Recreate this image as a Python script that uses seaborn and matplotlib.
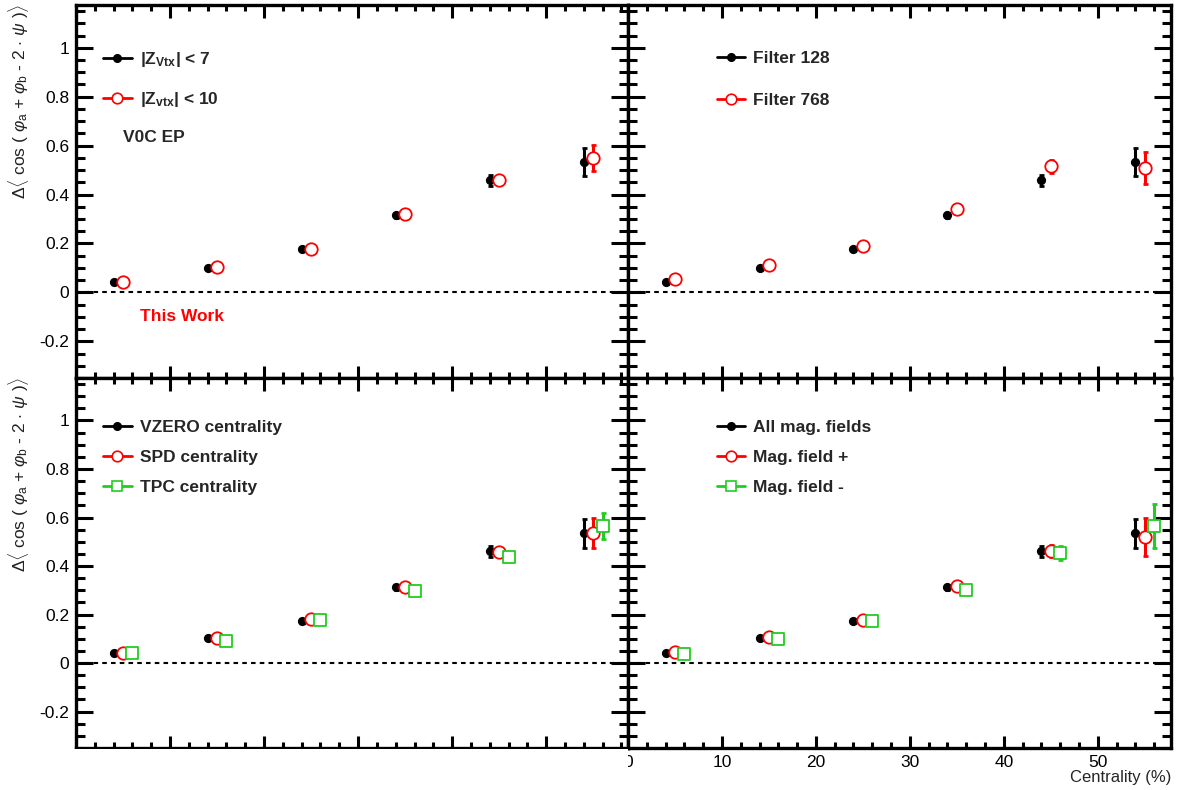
import numpy as np
import seaborn as sns
from matplotlib import pyplot as plt
from matplotlib.lines import Line2D
from matplotlib.patches import Rectangle
from matplotlib.ticker import MultipleLocator, FuncFormatter

# centrality bin centres, series are shifted by -1 / 0 / +1 around them
cent = np.array([5, 15, 25, 35, 45, 55])

# top left: vertex cut
zvtx7 = [0.041, 0.098, 0.176, 0.316, 0.459, 0.533]
zvtx7_err = [0.006, 0.007, 0.008, 0.010, 0.022, 0.058]
zvtx10 = [0.041, 0.102, 0.176, 0.320, 0.459, 0.549]
zvtx10_err = [0.005, 0.006, 0.007, 0.009, 0.015, 0.053]

# top right: filter bits
filt128 = [0.041, 0.098, 0.176, 0.316, 0.459, 0.533]
filt128_err = [0.006, 0.007, 0.008, 0.010, 0.022, 0.058]
filt768 = [0.053, 0.111, 0.189, 0.340, 0.516, 0.508]
filt768_err = [0.006, 0.007, 0.008, 0.010, 0.027, 0.065]

# bottom left: centrality estimator
vzero = [0.041, 0.103, 0.173, 0.313, 0.461, 0.535]
vzero_err = [0.006, 0.007, 0.008, 0.010, 0.022, 0.060]
spd = [0.041, 0.103, 0.181, 0.313, 0.457, 0.535]
spd_err = [0.005, 0.006, 0.007, 0.009, 0.018, 0.062]
tpc = [0.041, 0.091, 0.177, 0.296, 0.436, 0.564]
tpc_err = [0.005, 0.006, 0.007, 0.009, 0.010, 0.053]

# bottom right: magnetic field polarity
allmag = [0.041, 0.103, 0.173, 0.313, 0.461, 0.535]
allmag_err = [0.006, 0.007, 0.008, 0.010, 0.022, 0.060]
magp = [0.045, 0.107, 0.177, 0.317, 0.461, 0.519]
magp_err = [0.006, 0.007, 0.008, 0.010, 0.025, 0.077]
magm = [0.037, 0.099, 0.173, 0.300, 0.453, 0.564]
magm_err = [0.006, 0.007, 0.008, 0.010, 0.030, 0.090]

sns.set_style("ticks")
plt.rcParams['font.family'] = ['Liberation Sans', 'DejaVu Sans']
plt.rcParams['mathtext.fontset'] = 'custom'
plt.rcParams['mathtext.rm'] = 'Liberation Sans'
plt.rcParams['mathtext.it'] = 'Liberation Sans:italic'
plt.rcParams['mathtext.bf'] = 'Liberation Sans:bold'

STYLES = {
    'black': dict(color='black', marker='o', s=44, face='black', lw=0),
    'red': dict(color='red', marker='o', s=80, face='white', lw=1.3),
    'green': dict(color='#22cc22', marker='s', s=78, face='white', lw=1.3),
}

ylab = (r"$\Delta\langle$ cos ( $\varphi_{\mathrm{a}}$ + $\varphi_{\mathrm{b}}$"
        r" - 2 $\cdot$ $\psi$ )$\rangle$")

W, H = 1190, 790
fig = plt.figure(figsize=(W / 100, H / 100), dpi=100)


def px_axes(x0, x1, y0, y1):
    return fig.add_axes([x0 / W, 1 - y1 / H, (x1 - x0) / W, (y1 - y0) / H])


ax_tl = px_axes(76, 628, 5, 378)
ax_tr = px_axes(628, 1171, 5, 378)
ax_bl = px_axes(76, 628, 378, 748)
ax_br = px_axes(628, 1171, 378, 748)


def draw_series(ax, x, y, err, style):
    st = STYLES[style]
    ax.errorbar(x, y, yerr=err, fmt='none', ecolor=st['color'], elinewidth=2.2,
                capsize=1.8, capthick=2, zorder=2)
    sns.scatterplot(x=x, y=y, ax=ax, marker=st['marker'], s=st['s'],
                    color=st['face'], edgecolor=st['color'], linewidth=st['lw'],
                    zorder=3, legend=False)


def handle(style):
    st = STYLES[style]
    return Line2D([], [], color=st['color'], lw=2, marker=st['marker'],
                  markersize=np.sqrt(st['s']) * (0.8 if style == 'black' else 0.85),
                  markerfacecolor=st['face'], markeredgecolor=st['color'],
                  markeredgewidth=1.2)


def style_axes(ax, xmax, left_labels, bottom_labels):
    ax.set_xlim(0, xmax)
    ax.set_ylim(-0.35, 1.175)
    ax.axhline(0, color='black', lw=1.5, ls=(0, (2.2, 2)), zorder=1)
    ax.xaxis.set_major_locator(MultipleLocator(10))
    ax.xaxis.set_minor_locator(MultipleLocator(2))
    ax.yaxis.set_major_locator(MultipleLocator(0.2))
    ax.yaxis.set_minor_locator(MultipleLocator(0.05))
    ax.yaxis.set_major_formatter(FuncFormatter(lambda v, _: f"{v:g}"))
    ax.tick_params(which='both', direction='in', top=True, right=True,
                   width=2.2, colors='black', labelsize=12.5)
    ax.tick_params(axis='y', which='major', length=12.5, pad=5)
    ax.tick_params(axis='y', which='minor', length=6.5)
    ax.tick_params(axis='x', which='major', length=9, pad=5)
    ax.tick_params(axis='x', which='minor', length=4.5)
    ax.tick_params(axis='y', labelleft=left_labels)
    ax.tick_params(axis='x', labelbottom=bottom_labels)
    for sp in ax.spines.values():
        sp.set_linewidth(2.4)
        sp.set_color('black')
    ax.set_xlabel('')
    ax.set_ylabel('')


def add_legend(ax, styles, labels, x, y, spacing):
    return ax.legend([handle(s) for s in styles], labels, loc='upper left',
                     bbox_to_anchor=(x, y), frameon=False,
                     handlelength=1.65, handletextpad=0.45, labelspacing=spacing,
                     borderpad=0, borderaxespad=0,
                     prop={'weight': 'bold', 'size': 12.5})


# top left
draw_series(ax_tl, cent - 1, zvtx7, zvtx7_err, 'black')
draw_series(ax_tl, cent, zvtx10, zvtx10_err, 'red')
style_axes(ax_tl, 58.7, True, False)
add_legend(ax_tl, ['black', 'red'],
           [r"|$\mathbf{Z}_{\mathbf{Vtx}}$| < 7", r"|$\mathbf{Z}_{\mathbf{vtx}}$| < 10"],
           0.049, 0.88, 1.2)
ax_tl.text(0.085, 0.646, 'V0C EP', transform=ax_tl.transAxes, fontsize=12.5,
           fontweight='bold', va='center')
ax_tl.text(0.116, 0.166, 'This Work', transform=ax_tl.transAxes, fontsize=12.5,
           fontweight='bold', color='red', va='center')

# top right
draw_series(ax_tr, cent - 1, filt128, filt128_err, 'black')
draw_series(ax_tr, cent, filt768, filt768_err, 'red')
style_axes(ax_tr, 57.8, False, False)
add_legend(ax_tr, ['black', 'red'], ['Filter 128', 'Filter 768'],
           0.163, 0.876, 1.5)

# bottom left
draw_series(ax_bl, cent - 1, vzero, vzero_err, 'black')
draw_series(ax_bl, cent, spd, spd_err, 'red')
draw_series(ax_bl, cent + 1, tpc, tpc_err, 'green')
style_axes(ax_bl, 58.7, True, False)
add_legend(ax_bl, ['black', 'red', 'green'],
           ['VZERO centrality', 'SPD centrality', 'TPC centrality'],
           0.049, 0.888, 0.88)

# bottom right
draw_series(ax_br, cent - 1, allmag, allmag_err, 'black')
draw_series(ax_br, cent, magp, magp_err, 'red')
draw_series(ax_br, cent + 1, magm, magm_err, 'green')
style_axes(ax_br, 57.8, False, True)
add_legend(ax_br, ['black', 'red', 'green'],
           ['All mag. fields', 'Mag. field +', 'Mag. field -'],
           0.163, 0.888, 0.88)
ax_br.set_xlabel('Centrality (%)', loc='right', fontsize=12, labelpad=0)

# y titles, top aligned like the ROOT pads
fig.text(19 / W, 1 - 4 / H, ylab, rotation=90, ha='center', va='top',
         fontsize=12.5, color='#222222')
fig.text(19 / W, 1 - 377 / H, ylab, rotation=90, ha='center', va='top',
         fontsize=12.5, color='#222222')

# left pad hides the left half of the "0" label like in the original canvas
fig.patches.append(Rectangle((0, 0), 628 / W, 41 / H, transform=fig.transFigure,
                             facecolor='white', edgecolor='none', zorder=10))

fig.savefig('out.png', dpi=100, facecolor='white')
